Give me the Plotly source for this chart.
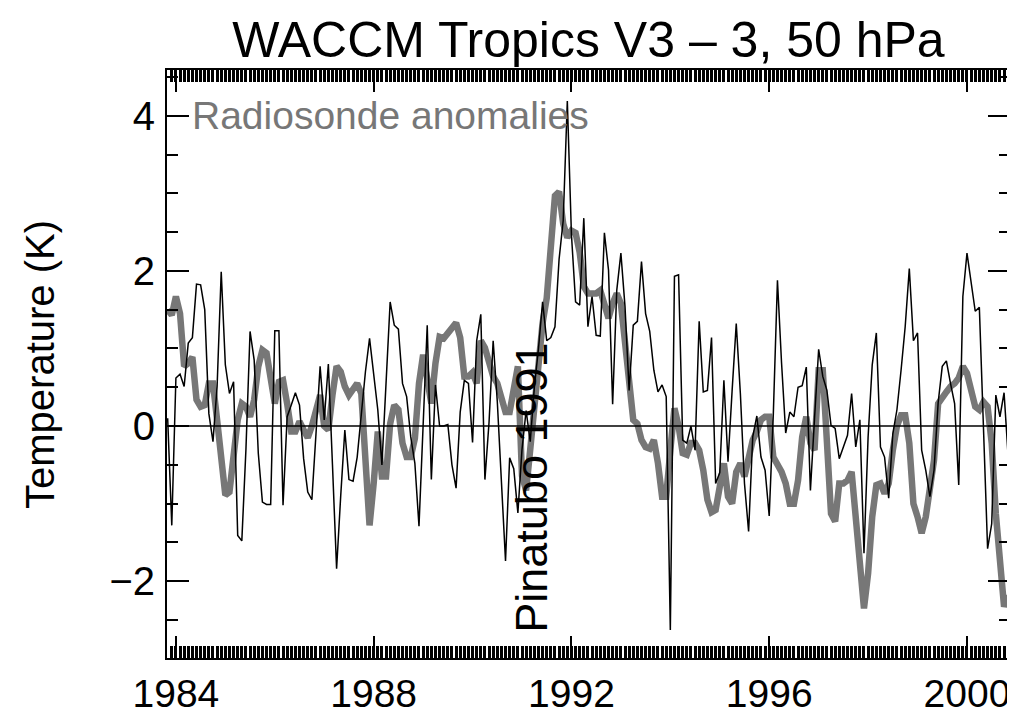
import plotly.graph_objects as go

# ---- data (monthly anomalies, K), first month Nov 1983 ----
start_year = 1983 + 10 / 12
model_anom = [
    0.1, -1.28, 0.62, 0.67, 0.51, 1.07, 1.14, 1.83, 1.82, 1.50,
    0.16, -0.20, 0.51, 1.99, 0.79, 0.42, 0.57, -1.41, -1.48, -0.3,
    1.22, 0.85, -0.35, -0.98, -1.01, -1.01, 1.23, 1.23, -1.02, 0.12,
    0.27, 0.43, 0.27, -0.42, -0.85, -0.95, -0.1, 0.77, 0.08, 0.80,
    -0.5, -1.84, -0.9, -0.05, -0.69, -0.71, -0.40, 0.2, 0.7, 1.13,
    0.64, 0.21, -0.5, 0.6, 1.60, 1.30, 1.25, 0.55, 0.38, -0.14,
    -0.48, -1.29, 0.03, 1.30, -0.69, 0.53, 0.0, 0.0, 0.02, -0.50,
    -0.80, 0.18, 0.59, 0.55, -0.21, 1.10, 1.44, -0.69, 0.05, 1.10,
    0.32, -0.7, -1.74, -0.41, -0.55, -1.12, -0.3, 0.2, -0.2, 0.5,
    1.0, 1.60, 1.10, 1.14, 1.28, 2.15, 2.65, 4.19, 2.47, 1.60,
    1.56, 2.68, 1.28, 1.67, 1.17, 1.16, 2.49, 2.01, 0.28, 1.75,
    2.23, 1.54, 0.46, 1.30, 1.35, 2.12, 1.45, 1.22, 0.72, 0.44,
    0.53, 0.38, -2.63, 1.93, 1.95, -0.18, -0.22, 0.0, -0.31, 1.35,
    0.44, 0.46, 1.14, -0.74, -0.6, 0.59, -0.46, 0.46, 1.32, 0.42,
    -0.74, -1.36, -0.14, 0.13, -0.40, -0.57, -1.16, 0.16, 1.88, 0.81,
    -0.09, 0.18, 0.12, 0.50, 0.52, 0.76, -0.83, 0.1, 0.99, 0.64,
    0.46, 0.01, -0.03, -0.42, -0.27, -0.12, 0.42, -0.27, 0.08, -1.64,
    -0.14, 0.79, 1.20, -0.27, -0.40, -0.93, -0.1, 0.21, 0.72, 1.28,
    2.03, 1.10, 1.20, -0.31, -0.57, -0.91, -0.57, 0.3, 0.77, 0.84,
    0.55, 0.29, -0.76, 1.67, 2.23, 1.88, 1.48, 1.53, 0.0, -1.58,
    -1.26, 0.40, 0.12, 0.43, -0.4,
]
radiosonde_anom = [
    1.50, 1.43, 1.67, 1.45, 0.77, 0.81, 0.89, 0.34, 0.25, 0.27,
    0.55, 0.55, 0.08, -0.48, -0.89, -0.85, -0.31, 0.08, 0.29, 0.25,
    0.12, 0.34, 0.77, 0.98, 0.94, 0.59, 0.29, 0.57, 0.59, 0.29,
    -0.07, -0.07, 0.06, -0.05, -0.15, 0.0, 0.25, 0.40, 0.0, -0.05,
    0.4, 0.77, 0.70, 0.51, 0.40, 0.49, 0.55, 0.42, -0.31, -1.28,
    -0.74, -0.07, -0.65, -0.65, 0.03, 0.27, 0.21, -0.22, -0.40, -0.40,
    -0.16, 0.55, 0.92, 0.59, 0.29, 0.81, 1.15, 1.13, 1.19, 1.28,
    1.33, 1.14, 0.64, 0.64, 0.69, 0.55, 1.10, 1.01, 0.82, 0.64,
    0.55, 0.37, 0.18, 0.18, 0.45, 0.77, -0.64, -0.83, -0.3, 0.3,
    0.8, 1.33, 1.65, 2.38, 2.97, 3.02, 2.61, 2.43, 2.52, 2.49,
    2.24, 1.80, 1.71, 1.71, 1.71, 1.75, 1.54, 1.39, 1.58, 1.71,
    1.58, 1.11, 0.46, 0.08, 0.03, -0.18, -0.27, -0.29, -0.18, -0.48,
    -0.91, -0.91, -0.31, 0.23, 0.0, -0.35, -0.37, -0.22, -0.22, -0.31,
    -0.57, -0.95, -1.11, -1.08, -0.78, -0.48, -0.91, -1.0, -0.59, -0.48,
    -0.65, -0.40, -0.18, -0.07, 0.08, 0.12, 0.12, -0.40, -0.48, -0.59,
    -0.74, -1.0, -1.0, -0.70, -0.14, 0.12, -0.22, -0.31, 0.72, 0.72,
    -0.2, -1.13, -1.23, -0.74, -0.74, -0.70, -0.59, -1.13, -1.86, -2.35,
    -1.90, -1.17, -0.76, -0.74, -0.87, -0.74, -0.31, 0.0, 0.14, 0.14,
    -0.22, -1.0, -1.17, -1.38, -1.17, -0.78, -0.44, 0.29, 0.38, 0.44,
    0.51, 0.55, 0.62, 0.77, 0.68, 0.46, 0.25, 0.21, 0.31, 0.25,
    -0.22, -1.13, -1.77, -2.33, -2.18,
]
x_tick_years = [1984, 1988, 1992, 1996, 2000]
y_tick_vals = [-2, 0, 2, 4]

months = [start_year + i / 12 for i in range(len(model_anom))]

FONT = "Liberation Sans, Arial, Helvetica, sans-serif"
GRAY = "#777777"

# the page body adds an 8px offset; the figure is sized to fill the window
W, H = 1007, 703

fig = go.Figure()
fig.add_trace(go.Scatter(x=months, y=radiosonde_anom, mode="lines",
                         line=dict(color=GRAY, width=6.5), hoverinfo="skip"))
fig.add_trace(go.Scatter(x=months, y=model_anom, mode="lines",
                         line=dict(color="black", width=1.5), hoverinfo="skip"))

fig.add_shape(type="line", xref="paper", x0=0, x1=1, yref="y", y0=0, y1=0,
              line=dict(color="black", width=1.5), layer="above")

fig.add_annotation(text="Radiosonde anomalies", x=1984.28, y=4.0, xref="x", yref="y",
                   xanchor="left", yanchor="middle", showarrow=False,
                   font=dict(family=FONT, size=39, color=GRAY))
fig.add_annotation(text="Pinatubo 1991", x=1991.19, y=-0.79, xref="x", yref="y",
                   xanchor="center", yanchor="middle", textangle=-90, showarrow=False,
                   font=dict(family=FONT, size=45, color="black"))
fig.add_annotation(text="Temperature (K)", x=-0.1507, y=0.5, xref="paper", yref="paper",
                   xanchor="center", yanchor="middle", textangle=-90, showarrow=False,
                   font=dict(family=FONT, size=40, color="black"))

fig.update_layout(
    width=W, height=H,
    margin=dict(l=159, r=5, t=62, b=53, autoexpand=False),
    paper_bgcolor="white", plot_bgcolor="white",
    showlegend=False,
    title=dict(text="WACCM Tropics V3 – 3, 50 hPa", x=0.5, xref="paper",
               y=1 - 31 / H, yref="container", xanchor="center", yanchor="middle",
               font=dict(family=FONT, size=50, color="black"), automargin=False),
    font=dict(family=FONT, color="black"),
)
fig.update_xaxes(
    automargin=False,
    range=[1983.82, 2000.87], tickmode="array", tickvals=x_tick_years,
    ticktext=[str(v) for v in x_tick_years],
    ticks="inside", ticklen=22, tickwidth=2, tickcolor="black",
    showline=True, linewidth=2, linecolor="black", mirror="ticks",
    showgrid=False, zeroline=False,
    tickfont=dict(family=FONT, size=39, color="black"), ticklabelstandoff=0,
    minor=dict(tickmode="linear", tick0=start_year, dtick=1 / 12, ticks="inside",
               ticklen=12, tickwidth=3.3, tickcolor="black", showgrid=False),
)
fig.update_yaxes(
    automargin=False,
    range=[-2.99, 4.59], tickmode="array", tickvals=y_tick_vals,
    ticktext=["\u22122", "0", "2", "4"],
    ticks="inside", ticklen=22, tickwidth=2, tickcolor="black",
    showline=True, linewidth=2, linecolor="black", mirror="ticks",
    showgrid=False, zeroline=False,
    tickfont=dict(family=FONT, size=40, color="black"), ticklabelstandoff=2,
    minor=dict(tickmode="linear", tick0=0, dtick=0.5, ticks="inside",
               ticklen=11, tickwidth=2, tickcolor="black", showgrid=False),
)

fig.write_html("out.html")
